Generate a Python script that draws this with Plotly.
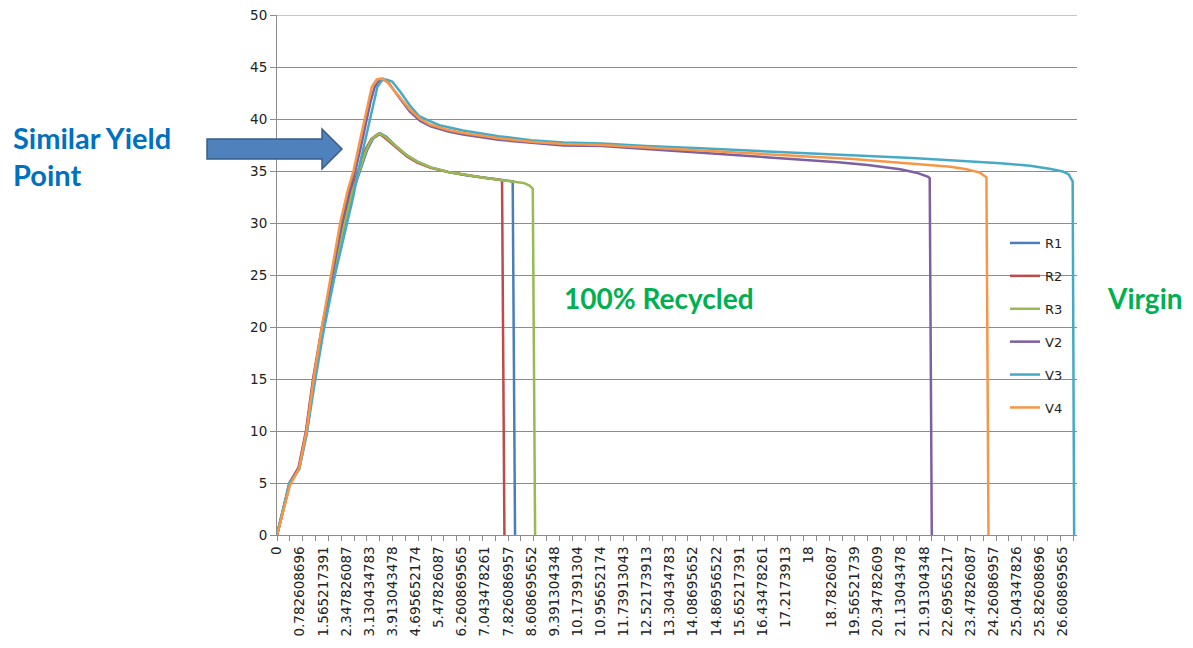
import plotly.graph_objects as go

# ---------------- data ----------------
SERIES = ["R1", "R2", "R3", "V2", "V3", "V4"]
COLORS = ["#4A7EBB", "#BE4B48", "#98B954", "#7D60A0", "#46AAC5", "#F79646"]

r1_x = [0, 0.2, 0.43, 0.75, 1.0, 1.25, 1.55, 1.95, 2.27, 2.57, 2.86, 3.05, 3.25, 3.5, 3.7, 4.06, 4.4, 4.75, 5.2, 5.8, 6.4, 7.0, 7.5, 7.98, 8.06]
r1_y = [0, 2.4, 5.0, 6.4, 9.8, 14.8, 19.8, 25.0, 29.5, 33.0, 35.5, 37.0, 38.1, 38.6, 38.3, 37.3, 36.5, 35.9, 35.35, 34.9, 34.6, 34.35, 34.15, 34.0, 0]

r2_x = [0, 0.2, 0.42, 0.73, 0.98, 1.22, 1.52, 1.88, 2.2, 2.5, 2.8, 3.0, 3.2, 3.44, 3.65, 4.06, 4.4, 4.75, 5.2, 5.8, 6.4, 7.0, 7.4, 7.62, 7.7]
r2_y = [0, 2.4, 5.0, 6.5, 10.0, 15.0, 20.0, 25.0, 29.5, 33.0, 35.6, 37.1, 38.1, 38.6, 38.2, 37.2, 36.4, 35.8, 35.3, 34.9, 34.6, 34.35, 34.2, 34.1, 0]

r3_x = [0, 0.2, 0.43, 0.75, 1.0, 1.25, 1.55, 1.93, 2.25, 2.55, 2.84, 3.02, 3.22, 3.46, 3.66, 4.06, 4.4, 4.75, 5.2, 5.8, 6.4, 7.0, 7.5, 8.0, 8.35, 8.55, 8.66, 8.74]
r3_y = [0, 2.3, 4.9, 6.4, 9.8, 14.8, 19.8, 25.0, 29.5, 33.0, 35.5, 37.0, 38.1, 38.6, 38.3, 37.3, 36.5, 35.9, 35.35, 34.9, 34.6, 34.35, 34.15, 34.0, 33.85, 33.6, 33.3, 0]

v2_x = [0, 0.2, 0.43, 0.74, 0.99, 1.23, 1.53, 1.87, 2.2, 2.45, 2.65, 2.86, 3.03, 3.17, 3.31, 3.46, 3.6, 3.8, 4.1, 4.5, 4.85, 5.2, 5.8, 6.3, 7.5, 8.6, 9.7, 11.0, 12.5, 14.35, 16.0, 17.7, 19.0, 20.0, 21.1, 21.65, 22.05, 22.1, 22.17]
v2_y = [0, 2.3, 4.9, 6.4, 9.9, 14.9, 19.9, 25.0, 30.0, 33.0, 35.0, 37.6, 40.0, 41.7, 43.1, 43.7, 43.85, 43.4, 42.2, 40.7, 39.8, 39.3, 38.8, 38.5, 38.0, 37.7, 37.45, 37.4, 37.1, 36.76, 36.45, 36.12, 35.85, 35.58, 35.16, 34.84, 34.45, 34.3, 0]

v3_x = [0, 0.2, 0.42, 0.75, 1.0, 1.27, 1.57, 1.96, 2.37, 2.58, 2.75, 2.95, 3.13, 3.27, 3.4, 3.55, 3.7, 3.9, 4.18, 4.5, 4.8, 5.1, 5.5, 6.3, 7.5, 8.6, 9.7, 11.0, 12.5, 14.35, 16.0, 17.2, 18.5, 20.0, 21.5, 22.3, 23.5, 24.5, 25.5, 26.2, 26.6, 26.8, 26.94, 26.99]
v3_y = [0, 2.3, 5.0, 6.3, 9.6, 14.5, 19.5, 25.0, 30.0, 32.5, 35.0, 37.5, 40.0, 41.5, 43.1, 43.7, 43.8, 43.6, 42.6, 41.3, 40.3, 39.9, 39.4, 38.9, 38.35, 37.95, 37.75, 37.65, 37.4, 37.18, 36.95, 36.76, 36.6, 36.44, 36.25, 36.12, 35.95, 35.75, 35.5, 35.2, 34.95, 34.7, 34.0, 0]

v4_x = [0, 0.2, 0.44, 0.75, 1.0, 1.24, 1.52, 1.83, 2.14, 2.4, 2.59, 2.8, 2.96, 3.08, 3.21, 3.38, 3.55, 3.75, 4.06, 4.5, 4.85, 5.2, 5.8, 6.3, 7.5, 8.6, 9.7, 11.0, 12.5, 14.35, 16.0, 17.7, 19.5, 21.1, 22.3, 22.8, 23.35, 23.8, 24.02, 24.09]
v4_y = [0, 2.2, 4.8, 6.4, 10.0, 15.0, 20.0, 25.0, 30.0, 33.2, 35.0, 37.8, 40.0, 41.5, 43.1, 43.8, 43.9, 43.5, 42.4, 40.9, 40.0, 39.45, 38.95, 38.65, 38.15, 37.82, 37.6, 37.5, 37.25, 36.95, 36.7, 36.44, 36.15, 35.8, 35.55, 35.41, 35.16, 34.84, 34.39, 0]

X_DATA = [r1_x, r2_x, r3_x, v2_x, v3_x, v4_x]
Y_DATA = [r1_y, r2_y, r3_y, v2_y, v3_y, v4_y]

X_TICK_LABELS = ["0", "0.782608696", "1.565217391", "2.347826087", "3.130434783",
                 "3.913043478", "4.695652174", "5.47826087", "6.260869565", "7.043478261",
                 "7.826086957", "8.608695652", "9.391304348", "10.17391304", "10.95652174",
                 "11.73913043", "12.52173913", "13.30434783", "14.08695652", "14.86956522",
                 "15.65217391", "16.43478261", "17.2173913", "18", "18.7826087",
                 "19.56521739", "20.34782609", "21.13043478", "21.91304348", "22.69565217",
                 "23.47826087", "24.26086957", "25.04347826", "25.82608696", "26.60869565"]
Y_TICKS = [0, 5, 10, 15, 20, 25, 30, 35, 40, 45, 50]
Y_MAX = 50
X_MAX = 623 / 23          # last category of the Excel category axis
MINOR_STEP = 10 / 23      # tick-mark interval of the category axis

# ---------------- geometry (screen pixels; body margin removed by post_script) ----------------
W, H = 1193, 648
PL, PR, PT, PB = 277, 1077, 15, 535          # plot area on screen
L, T, R, B = PL, PT, W - PR, H - PB
PW, PH = PR - PL, PB - PT


def px(xs):
    return (xs - PL) / PW


def py(ys):
    return (PB - ys) / PH


fig = go.Figure()
for name, col, xs, ys in zip(SERIES, COLORS, X_DATA, Y_DATA):
    fig.add_trace(go.Scatter(x=xs, y=ys, mode="lines", name=name, legendgroup=name,
                             line=dict(color=col, width=2.5)))

GRID = "#8C8C8C"
TICKFONT = dict(family="DejaVu Sans", size=13.5, color="#222222")

minor_vals = []
k = 0
while k * MINOR_STEP <= X_MAX + 1e-9:
    minor_vals.append(k * MINOR_STEP + 1e-4)
    k += 1

fig.update_xaxes(range=[0, X_MAX], tickmode="array",
                 tickvals=[float(s) for s in X_TICK_LABELS], ticktext=X_TICK_LABELS,
                 tickangle=-90, ticks="outside", ticklen=0, tickcolor=GRID,
                 showgrid=False, zeroline=False, showline=True, linecolor=GRID, linewidth=1,
                 tickfont=TICKFONT, ticklabelstandoff=5,
                 minor=dict(tickmode="array", tickvals=minor_vals, ticks="outside",
                            ticklen=5, tickcolor=GRID, showgrid=False))
fig.update_yaxes(range=[0, Y_MAX], tickmode="array", tickvals=Y_TICKS,
                 ticktext=[str(v) for v in Y_TICKS],
                 ticks="outside", ticklen=6, tickcolor=GRID,
                 showgrid=True, gridcolor=GRID, gridwidth=1, zeroline=False,
                 showline=True, linecolor=GRID, linewidth=1, tickfont=TICKFONT)

# top gridline (plotly drops the grid line sitting on the range edge)
fig.add_shape(type="line", xref="paper", yref="y", x0=0, x1=1, y0=Y_MAX, y1=Y_MAX,
              line=dict(color=GRID, width=1), layer="below")

# block arrow
arrow = [(207, 139), (322, 139), (322, 129), (342, 149), (322, 169), (322, 159), (207, 159)]
path = "M " + " L ".join(f"{px(a):.5f},{py(b):.5f}" for a, b in arrow) + " Z"
fig.add_shape(type="path", path=path, xref="paper", yref="paper",
              fillcolor="#4F81BD", line=dict(color="#385D8A", width=1.5))

ANN_FONT = "Lato"
fig.add_annotation(x=px(11), y=py(137), xref="paper", yref="paper", xanchor="left", yanchor="middle",
                   text="<b>Similar Yield</b>", showarrow=False,
                   font=dict(family=ANN_FONT, size=29, color="#0070C0"))
fig.add_annotation(x=px(11), y=py(174), xref="paper", yref="paper", xanchor="left", yanchor="middle",
                   text="<b>Point</b>", showarrow=False,
                   font=dict(family=ANN_FONT, size=29, color="#0070C0"))
fig.add_annotation(x=px(659), y=py(298), xref="paper", yref="paper", xanchor="center", yanchor="middle",
                   text="<b>100% Recycled</b>", showarrow=False,
                   font=dict(family=ANN_FONT, size=28, color="#00B050"))
fig.add_annotation(x=px(1145), y=py(298), xref="paper", yref="paper", xanchor="center", yanchor="middle",
                   text="<b>Virgin</b>", showarrow=False,
                   font=dict(family=ANN_FONT, size=28, color="#00B050"))

fig.update_layout(
    width=W, height=H,
    margin=dict(l=L, r=R, t=T, b=B, pad=0, autoexpand=False),
    paper_bgcolor="white", plot_bgcolor="white",
    showlegend=True,
    legend=dict(x=px(1005), y=py(228), xanchor="left", yanchor="top",
                bgcolor="rgba(0,0,0,0)", borderwidth=0, tracegroupgap=13,
                font=dict(family="DejaVu Sans", size=13, color="#222222")),
)

fig.write_html("out.html", config={"displayModeBar": False},
               post_script="document.body.style.margin='0';document.body.style.overflow='hidden';")
